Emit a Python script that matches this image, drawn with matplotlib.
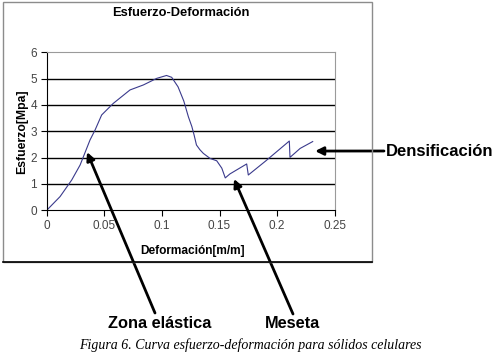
import matplotlib.pyplot as plt
from matplotlib.patches import Rectangle

# curve
strain = [0, 0.0116, 0.0217, 0.029, 0.0376, 0.042, 0.0477, 0.0578, 0.0723, 0.0839,
          0.0955, 0.104, 0.1085, 0.114, 0.119, 0.123, 0.126, 0.128, 0.130, 0.133,
          0.136, 0.1418, 0.1476, 0.152, 0.155, 0.159, 0.1736, 0.175, 0.19, 0.2106,
          0.2112, 0.22, 0.2309]
stress = [0, 0.52, 1.15, 1.72, 2.67, 3.05, 3.62, 4.06, 4.57, 4.76,
          5.01, 5.12, 5.05, 4.69, 4.15, 3.55, 3.18, 2.85, 2.48, 2.30,
          2.16, 1.97, 1.88, 1.60, 1.23, 1.38, 1.76, 1.34, 1.87, 2.63,
          2.01, 2.35, 2.61]

xticks = [0, 0.05, 0.1, 0.15, 0.2, 0.25]
xticklabels = ['0', '0.05', '0.1', '0.15', '0.2', '0.25']
yticks = [0, 1, 2, 3, 4, 5, 6]

plt.rcParams['font.family'] = ['Liberation Sans', 'DejaVu Sans']

fig = plt.figure(figsize=(5.01, 3.58), dpi=100)
W, H = 501, 358
ax = fig.add_axes([46.7 / W, 1 - 210.3 / H, 288 / W, 158 / H])

# chart frame
fig.patches.append(Rectangle((3 / W, 1 - 262 / H), 369 / W, 260 / H,
                             transform=fig.transFigure, fill=False,
                             edgecolor='#8c8c8c', lw=1))
fig.lines.append(plt.Line2D([3 / W, 372 / W], [1 - 262 / H, 1 - 262 / H],
                            transform=fig.transFigure, color='black', lw=1.2))

ax.plot(strain, stress, color='#3a3a8c', lw=0.8)

ax.set_xlim(0, 0.25)
ax.set_ylim(0, 6)
ax.set_xticks(xticks)
ax.set_xticklabels(xticklabels)
ax.set_yticks(yticks)
for v in yticks[1:-1]:
    ax.axhline(v, color='black', lw=1, zorder=0)
ax.tick_params(direction='out', length=4, width=0.8, labelsize=8.5,
               labelcolor='#444444', pad=3)
ax.spines['top'].set_color('#9a9a9a')
ax.spines['right'].set_color('#9a9a9a')
ax.spines['left'].set_color('black')
ax.spines['bottom'].set_color('black')

ax.set_xlabel('Deformación[m/m]', fontsize=8.6, fontweight='bold')
ax.set_ylabel('Esfuerzo[Mpa]', fontsize=8.8, fontweight='bold')
ax.xaxis.set_label_coords(0.505, -0.22)
ax.yaxis.set_label_coords(-0.065, 0.495)

fig.text(181 / W, 1 - 13 / H, 'Esfuerzo-Deformación', ha='center', va='center',
         fontsize=9.3, fontweight='bold')

arrow = dict(arrowstyle='-|>', color='black', lw=2, mutation_scale=12,
             shrinkA=0, shrinkB=0)
ax.annotate('', xy=(0.035, 2.21), xytext=(155, H - 313),
            textcoords='figure pixels', arrowprops=arrow, annotation_clip=False)
ax.annotate('', xy=(0.1626, 1.19), xytext=(293, H - 314),
            textcoords='figure pixels', arrowprops=arrow, annotation_clip=False)
ax.annotate('', xy=(0.233, 2.25), xytext=(384, H - 151),
            textcoords='figure pixels', arrowprops=arrow, annotation_clip=False)

fig.text(160 / W, 1 - 324 / H, 'Zona elástica', ha='center', va='center',
         fontsize=11.8, fontweight='bold')
fig.text(293 / W, 1 - 324 / H, 'Meseta', ha='center', va='center',
         fontsize=11.8, fontweight='bold')
fig.text(386 / W, 1 - 151 / H, 'Densificación', ha='left', va='center',
         fontsize=12, fontweight='bold')

fig.text(250 / W, 1 - 345 / H,
         'Figura 6. Curva esfuerzo-deformación para sólidos celulares',
         ha='center', va='center', fontsize=10, style='italic',
         family=['Liberation Serif', 'DejaVu Serif'])

fig.savefig('out.png', dpi=100)
